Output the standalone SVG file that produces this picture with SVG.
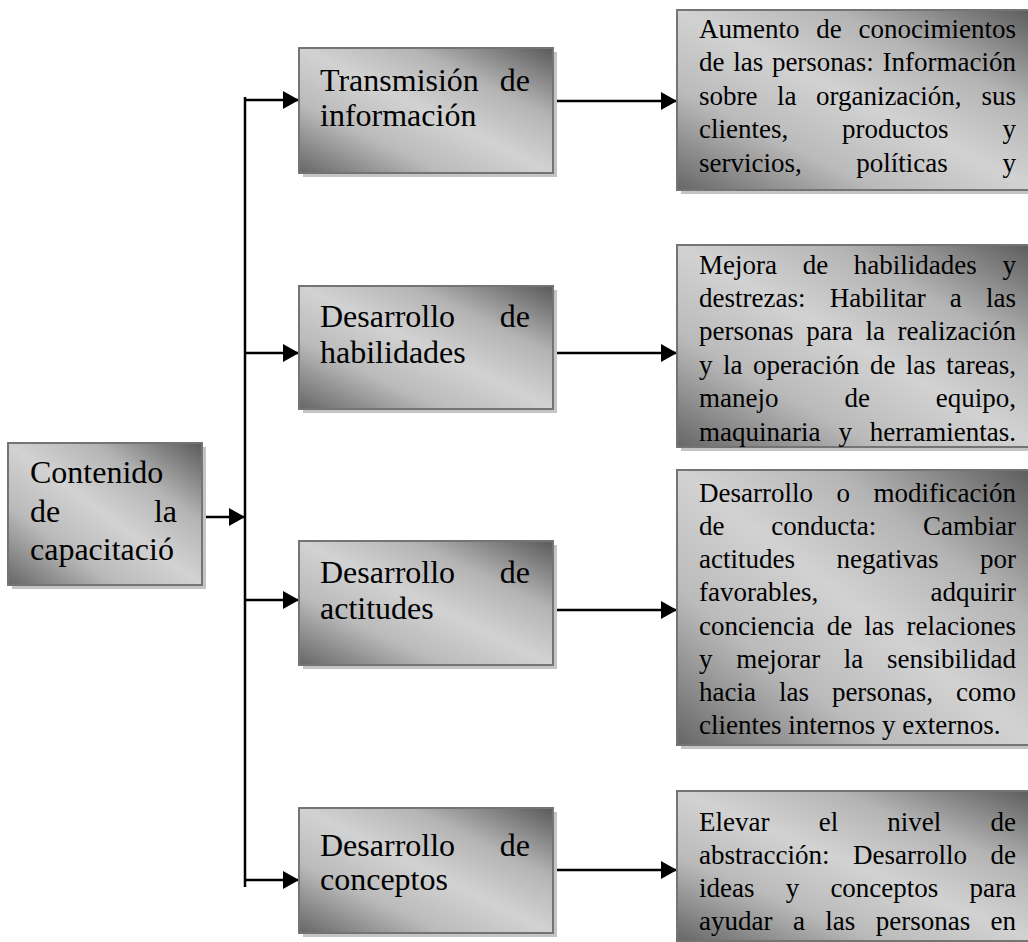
<svg xmlns="http://www.w3.org/2000/svg" width="1028" height="942" viewBox="0 0 1028 942">
<style>
.box{fill:url(#g);stroke:#747474;stroke-width:2}
.sh{fill:#c4c4c4}
.t{font-family:"Liberation Serif","Times New Roman",serif;fill:#000}
.big{font-size:32px}
.sm{font-size:27px}
.c{stroke:#000;stroke-width:2.5;fill:none}
.ca{stroke:#000;stroke-width:2.5;fill:none;marker-end:url(#ah)}
</style>
<defs>
<linearGradient id="g" x1="1" y1="0" x2="0" y2="1">
<stop offset="0" stop-color="#5a5a5a"/>
<stop offset="0.28" stop-color="#b4b4b4"/>
<stop offset="0.5" stop-color="#d2d2d2"/>
<stop offset="0.72" stop-color="#bababa"/>
<stop offset="1" stop-color="#666666"/>
</linearGradient>
<marker id="ah" markerUnits="userSpaceOnUse" markerWidth="16" markerHeight="18" refX="16" refY="9" orient="auto">
<path d="M0,0 L16,9 L0,18 Z" fill="#000"/>
</marker>
</defs>
<rect width="1028" height="942" fill="#fff"/>

<g id="connectors">
<line class="c" x1="245" y1="97" x2="245" y2="887"/>
<line class="ca" x1="202" y1="517" x2="245" y2="517"/>
<line class="ca" x1="245" y1="100" x2="299" y2="100"/>
<line class="ca" x1="245" y1="353" x2="299" y2="353"/>
<line class="ca" x1="245" y1="600" x2="299" y2="600"/>
<line class="ca" x1="245" y1="880" x2="299" y2="880"/>
<line class="ca" x1="553" y1="101" x2="677" y2="101"/>
<line class="ca" x1="553" y1="353" x2="677" y2="353"/>
<line class="ca" x1="553" y1="610" x2="677" y2="610"/>
<line class="ca" x1="553" y1="870" x2="677" y2="870"/>
</g>

<g id="n-contenido">
<rect class="sh" x="12" y="447" width="194" height="142"/>
<rect class="box" x="8" y="443" width="194" height="142"/>
<text class="t big" y="483"><tspan x="30">Contenido</tspan></text>
<text class="t big" y="522"><tspan x="30">de</tspan><tspan x="153.9">la</tspan></text>
<text class="t big" y="560"><tspan x="30">capacitació</tspan></text>
</g>

<g id="n-transmision">
<rect class="sh" x="303" y="52" width="254" height="125"/>
<rect class="box" x="299" y="48" width="254" height="125"/>
<text class="t big" y="91"><tspan x="320">Transmisión</tspan><tspan x="499.8">de</tspan></text>
<text class="t big" y="126"><tspan x="320">información</tspan></text>
</g>

<g id="n-habilidades">
<rect class="sh" x="303" y="290" width="254" height="123"/>
<rect class="box" x="299" y="286" width="254" height="123"/>
<text class="t big" y="327"><tspan x="320">Desarrollo</tspan><tspan x="499.8">de</tspan></text>
<text class="t big" y="363"><tspan x="320">habilidades</tspan></text>
</g>

<g id="n-actitudes">
<rect class="sh" x="303" y="545" width="254" height="124"/>
<rect class="box" x="299" y="541" width="254" height="124"/>
<text class="t big" y="583"><tspan x="320">Desarrollo</tspan><tspan x="499.8">de</tspan></text>
<text class="t big" y="619"><tspan x="320">actitudes</tspan></text>
</g>

<g id="n-conceptos">
<rect class="sh" x="303" y="812" width="254" height="125"/>
<rect class="box" x="299" y="808" width="254" height="125"/>
<text class="t big" y="856"><tspan x="320">Desarrollo</tspan><tspan x="499.8">de</tspan></text>
<text class="t big" y="890"><tspan x="320">conceptos</tspan></text>
</g>

<g id="n-aumento">
<rect class="sh" x="681" y="14" width="360" height="180"/>
<rect class="box" x="677" y="10" width="360" height="180"/>
<text class="t sm" y="38"><tspan x="699">Aumento</tspan><tspan x="816.3">de</tspan><tspan x="858.5">conocimientos</tspan></text>
<text class="t sm" y="71"><tspan x="699">de</tspan><tspan x="733.2">las</tspan><tspan x="771.9">personas:</tspan><tspan x="882.5">Información</tspan></text>
<text class="t sm" y="105"><tspan x="699">sobre</tspan><tspan x="776.9">la</tspan><tspan x="815.9">organización,</tspan><tspan x="981.5">sus</tspan></text>
<text class="t sm" y="138"><tspan x="699">clientes,</tspan><tspan x="842.1">productos</tspan><tspan x="1002.5">y</tspan></text>
<text class="t sm" y="172"><tspan x="699">servicios,</tspan><tspan x="856.3">políticas</tspan><tspan x="1002.5">y</tspan></text>
</g>

<g id="n-mejora">
<rect class="sh" x="681" y="249" width="360" height="202"/>
<rect class="box" x="677" y="245" width="360" height="202"/>
<text class="t sm" y="274"><tspan x="699">Mejora</tspan><tspan x="802.7">de</tspan><tspan x="853.8">habilidades</tspan><tspan x="1002.5">y</tspan></text>
<text class="t sm" y="307"><tspan x="699">destrezas:</tspan><tspan x="829.7">Habilitar</tspan><tspan x="949.8">a</tspan><tspan x="986">las</tspan></text>
<text class="t sm" y="340"><tspan x="699">personas</tspan><tspan x="806.2">para</tspan><tspan x="865.4">la</tspan><tspan x="897.6">realización</tspan></text>
<text class="t sm" y="374"><tspan x="699">y</tspan><tspan x="723">la</tspan><tspan x="752.9">operación</tspan><tspan x="869.9">de</tspan><tspan x="905.8">las</tspan><tspan x="946.3">tareas,</tspan></text>
<text class="t sm" y="407"><tspan x="699">manejo</tspan><tspan x="844.4">de</tspan><tspan x="935.8">equipo,</tspan></text>
<text class="t sm" y="441"><tspan x="699">maquinaria</tspan><tspan x="838.4">y</tspan><tspan x="869.8">herramientas.</tspan></text>
</g>

<g id="n-conducta">
<rect class="sh" x="681" y="474" width="360" height="275"/>
<rect class="box" x="677" y="470" width="360" height="275"/>
<text class="t sm" y="502"><tspan x="699">Desarrollo</tspan><tspan x="836.5">o</tspan><tspan x="873.5">modificación</tspan></text>
<text class="t sm" y="535"><tspan x="699">de</tspan><tspan x="771.3">conducta:</tspan><tspan x="923">Cambiar</tspan></text>
<text class="t sm" y="568"><tspan x="699">actitudes</tspan><tspan x="836.5">negativas</tspan><tspan x="980">por</tspan></text>
<text class="t sm" y="601"><tspan x="699">favorables,</tspan><tspan x="930.5">adquirir</tspan></text>
<text class="t sm" y="635"><tspan x="699">conciencia</tspan><tspan x="826.7">de</tspan><tspan x="864.3">las</tspan><tspan x="906.5">relaciones</tspan></text>
<text class="t sm" y="668"><tspan x="699">y</tspan><tspan x="736.2">mejorar</tspan><tspan x="843.8">la</tspan><tspan x="887">sensibilidad</tspan></text>
<text class="t sm" y="701"><tspan x="699">hacia</tspan><tspan x="778.9">las</tspan><tspan x="831.9">personas,</tspan><tspan x="956">como</tspan></text>
<text class="t sm" y="734"><tspan x="699">clientes internos y externos.</tspan></text>
</g>

<g id="n-abstraccion">
<rect class="sh" x="681" y="795" width="360" height="150"/>
<rect class="box" x="677" y="791" width="360" height="150"/>
<text class="t sm" y="831"><tspan x="699">Elevar</tspan><tspan x="818.7">el</tspan><tspan x="887.3">nivel</tspan><tspan x="990.5">de</tspan></text>
<text class="t sm" y="864"><tspan x="699">abstracción:</tspan><tspan x="853">Desarrollo</tspan><tspan x="990.5">de</tspan></text>
<text class="t sm" y="897"><tspan x="699">ideas</tspan><tspan x="785.7">y</tspan><tspan x="830.4">conceptos</tspan><tspan x="969.5">para</tspan></text>
<text class="t sm" y="930"><tspan x="699">ayudar</tspan><tspan x="792.9">a</tspan><tspan x="825.3">las</tspan><tspan x="875.7">personas</tspan><tspan x="990.5">en</tspan></text>
</g>
</svg>
